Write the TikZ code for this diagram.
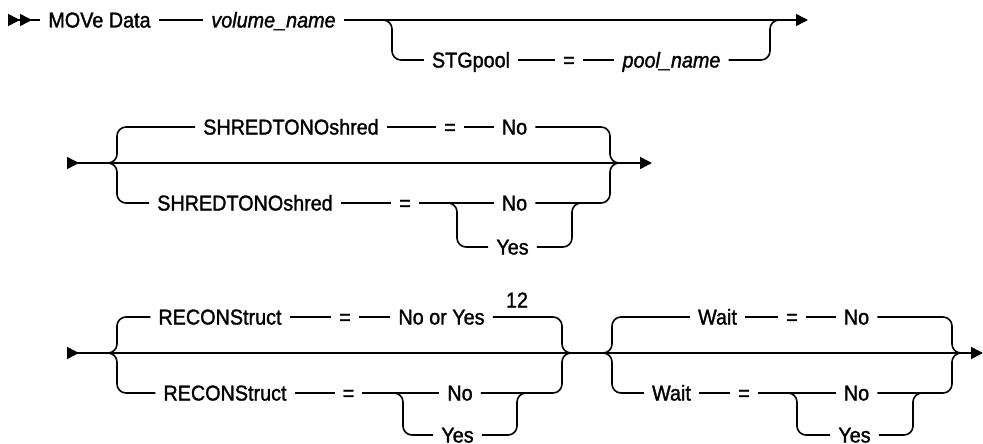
\documentclass[tikz,border=0pt]{standalone}
\usepackage{fontspec}
\setmainfont{Liberation Sans}[FakeStretch=0.92, FakeBold=1.4, ItalicFeatures={FakeStretch=0.92, FakeBold=1.4}]
\usepackage{tikz}
\usetikzlibrary{arrows.meta, positioning, calc}
\tikzset{
  kw/.style={inner xsep=8pt, inner ysep=0pt, text height=16pt, text depth=1pt},
  var/.style={kw, font=\fontsize{21.5}{26}\selectfont\itshape},
  rail/.style={line width=1.6pt, rounded corners=9pt},
  endarr/.style={rail, -{Triangle[length=12pt, width=12pt]}},
}

\begin{document}
\begin{tikzpicture}[x=1pt, y=-1pt, font=\fontsize{21.5}{26}\selectfont]
  \useasboundingbox (0,0) rectangle (983,444);

  \coordinate (r1start) at (8,20);
  \coordinate (r1split) at (392,20);
  \coordinate (r1join) at (770,20);
  \coordinate (r1end) at (808,20);
  \node[kw] (move) at (99.5,20) {MOVe Data};
  \node[var] (volname) at (273.5,20) {volume\_name};
  \node[kw] (stg) at (471,60) {STGpool};
  \node[kw] (stgeq) at (569,60) {=};
  \node[var] (poolname) at (671.5,60) {pool\_name};

  \draw[rail, {Triangle[reversed, length=12pt, width=12pt]Triangle[reversed, length=12pt, width=12pt]}-] (r1start) -- (move);
  \draw[rail] (move) -- (volname);
  \draw[endarr] (volname) -- (r1end);
  \draw[rail] ([xshift=-10pt]r1split) -- (r1split) |- (stg);
  \draw[rail] (stg) -- (stgeq);
  \draw[rail] (stgeq) -- (poolname);
  \draw[rail] (poolname) -| (r1join) -- ++(10,0);

  \coordinate (r2start) at (67,163);
  \coordinate (r2open) at (117,163);
  \coordinate (r2sub) at (457,203);
  \coordinate (r2subend) at (572,203);
  \coordinate (r2close) at (610,163);
  \coordinate (r2end) at (652,163);
  \node[kw] (shred1) at (291,127) {SHREDTONOshred};
  \node[kw] (eq1) at (450,127) {=};
  \node[kw] (no1) at (514.5,127) {No};
  \node[kw] (shred2) at (245,203) {SHREDTONOshred};
  \node[kw] (eq2) at (405,203) {=};
  \node[kw] (no2) at (514.5,203) {No};
  \node[kw] (yes2) at (512.5,247) {Yes};

  \draw[rail, {Triangle[reversed, length=12pt, width=12pt]}-{Triangle[length=12pt, width=12pt]}] (r2start) -- (r2end);
  \draw[rail] ([xshift=-10pt]r2open) -- (r2open) |- (shred1);
  \draw[rail] ([xshift=-10pt]r2open) -- (r2open) |- (shred2);
  \draw[rail] (shred1) -- (eq1);
  \draw[rail] (eq1) -- (no1);
  \draw[rail] (no1) -| (r2close) -- ++(10,0);
  \draw[rail] (shred2) -- (eq2);
  \draw[rail] (eq2) -- (no2);
  \draw[rail] ([xshift=-10pt]r2sub) -- (r2sub) |- (yes2);
  \draw[rail] (yes2) -| (r2subend) -- ++(10,0);
  \draw[rail] (no2) -| (r2close) -- ++(10,0);

  \coordinate (r3start) at (67,353);
  \coordinate (r3open) at (117,353);
  \coordinate (r3sub) at (403,393);
  \coordinate (r3subend) at (517,393);
  \coordinate (r3close) at (562,353);
  \coordinate (r3wopen) at (612,353);
  \coordinate (r3wsub) at (797,393);
  \coordinate (r3wsubend) at (913,393);
  \coordinate (r3wclose) at (952,353);
  \coordinate (r3end) at (983,353);
  \node[kw] (recon1) at (220,317) {RECONStruct};
  \node[kw] (eq3) at (345,317) {=};
  \node[kw] (noyes) at (441.5,317) {No or Yes};
  \node[kw] (note12) at (517,300) {12};
  \node[kw] (recon2) at (225,393) {RECONStruct};
  \node[kw] (eq4) at (348.5,393) {=};
  \node[kw] (no4) at (460,393) {No};
  \node[kw] (yes4) at (457.5,435) {Yes};
  \node[kw] (wait1) at (717.5,317) {Wait};
  \node[kw] (eq5) at (792,317) {=};
  \node[kw] (no5) at (856.5,317) {No};
  \node[kw] (wait2) at (671.5,393) {Wait};
  \node[kw] (eq6) at (744,393) {=};
  \node[kw] (no6) at (856.5,393) {No};
  \node[kw] (yes6) at (854.5,435) {Yes};

  \draw[rail, {Triangle[reversed, length=12pt, width=12pt]}-{Triangle[length=12pt, width=12pt]}] (r3start) -- (r3end);
  \draw[rail] ([xshift=-10pt]r3open) -- (r3open) |- (recon1);
  \draw[rail] ([xshift=-10pt]r3open) -- (r3open) |- (recon2);
  \draw[rail] (recon1) -- (eq3);
  \draw[rail] (eq3) -- (noyes);
  \draw[rail] (noyes) -| (r3close) -- ++(10,0);
  \draw[rail] (recon2) -- (eq4);
  \draw[rail] (eq4) -- (no4);
  \draw[rail] ([xshift=-10pt]r3sub) -- (r3sub) |- (yes4);
  \draw[rail] (yes4) -| (r3subend) -- ++(10,0);
  \draw[rail] (no4) -| (r3close) -- ++(10,0);
  \draw[rail] ([xshift=-10pt]r3wopen) -- (r3wopen) |- (wait1);
  \draw[rail] ([xshift=-10pt]r3wopen) -- (r3wopen) |- (wait2);
  \draw[rail] (wait1) -- (eq5);
  \draw[rail] (eq5) -- (no5);
  \draw[rail] (no5) -| (r3wclose) -- ++(10,0);
  \draw[rail] (wait2) -- (eq6);
  \draw[rail] (eq6) -- (no6);
  \draw[rail] ([xshift=-10pt]r3wsub) -- (r3wsub) |- (yes6);
  \draw[rail] (yes6) -| (r3wsubend) -- ++(10,0);
  \draw[rail] (no6) -| (r3wclose) -- ++(10,0);
\end{tikzpicture}
\end{document}
